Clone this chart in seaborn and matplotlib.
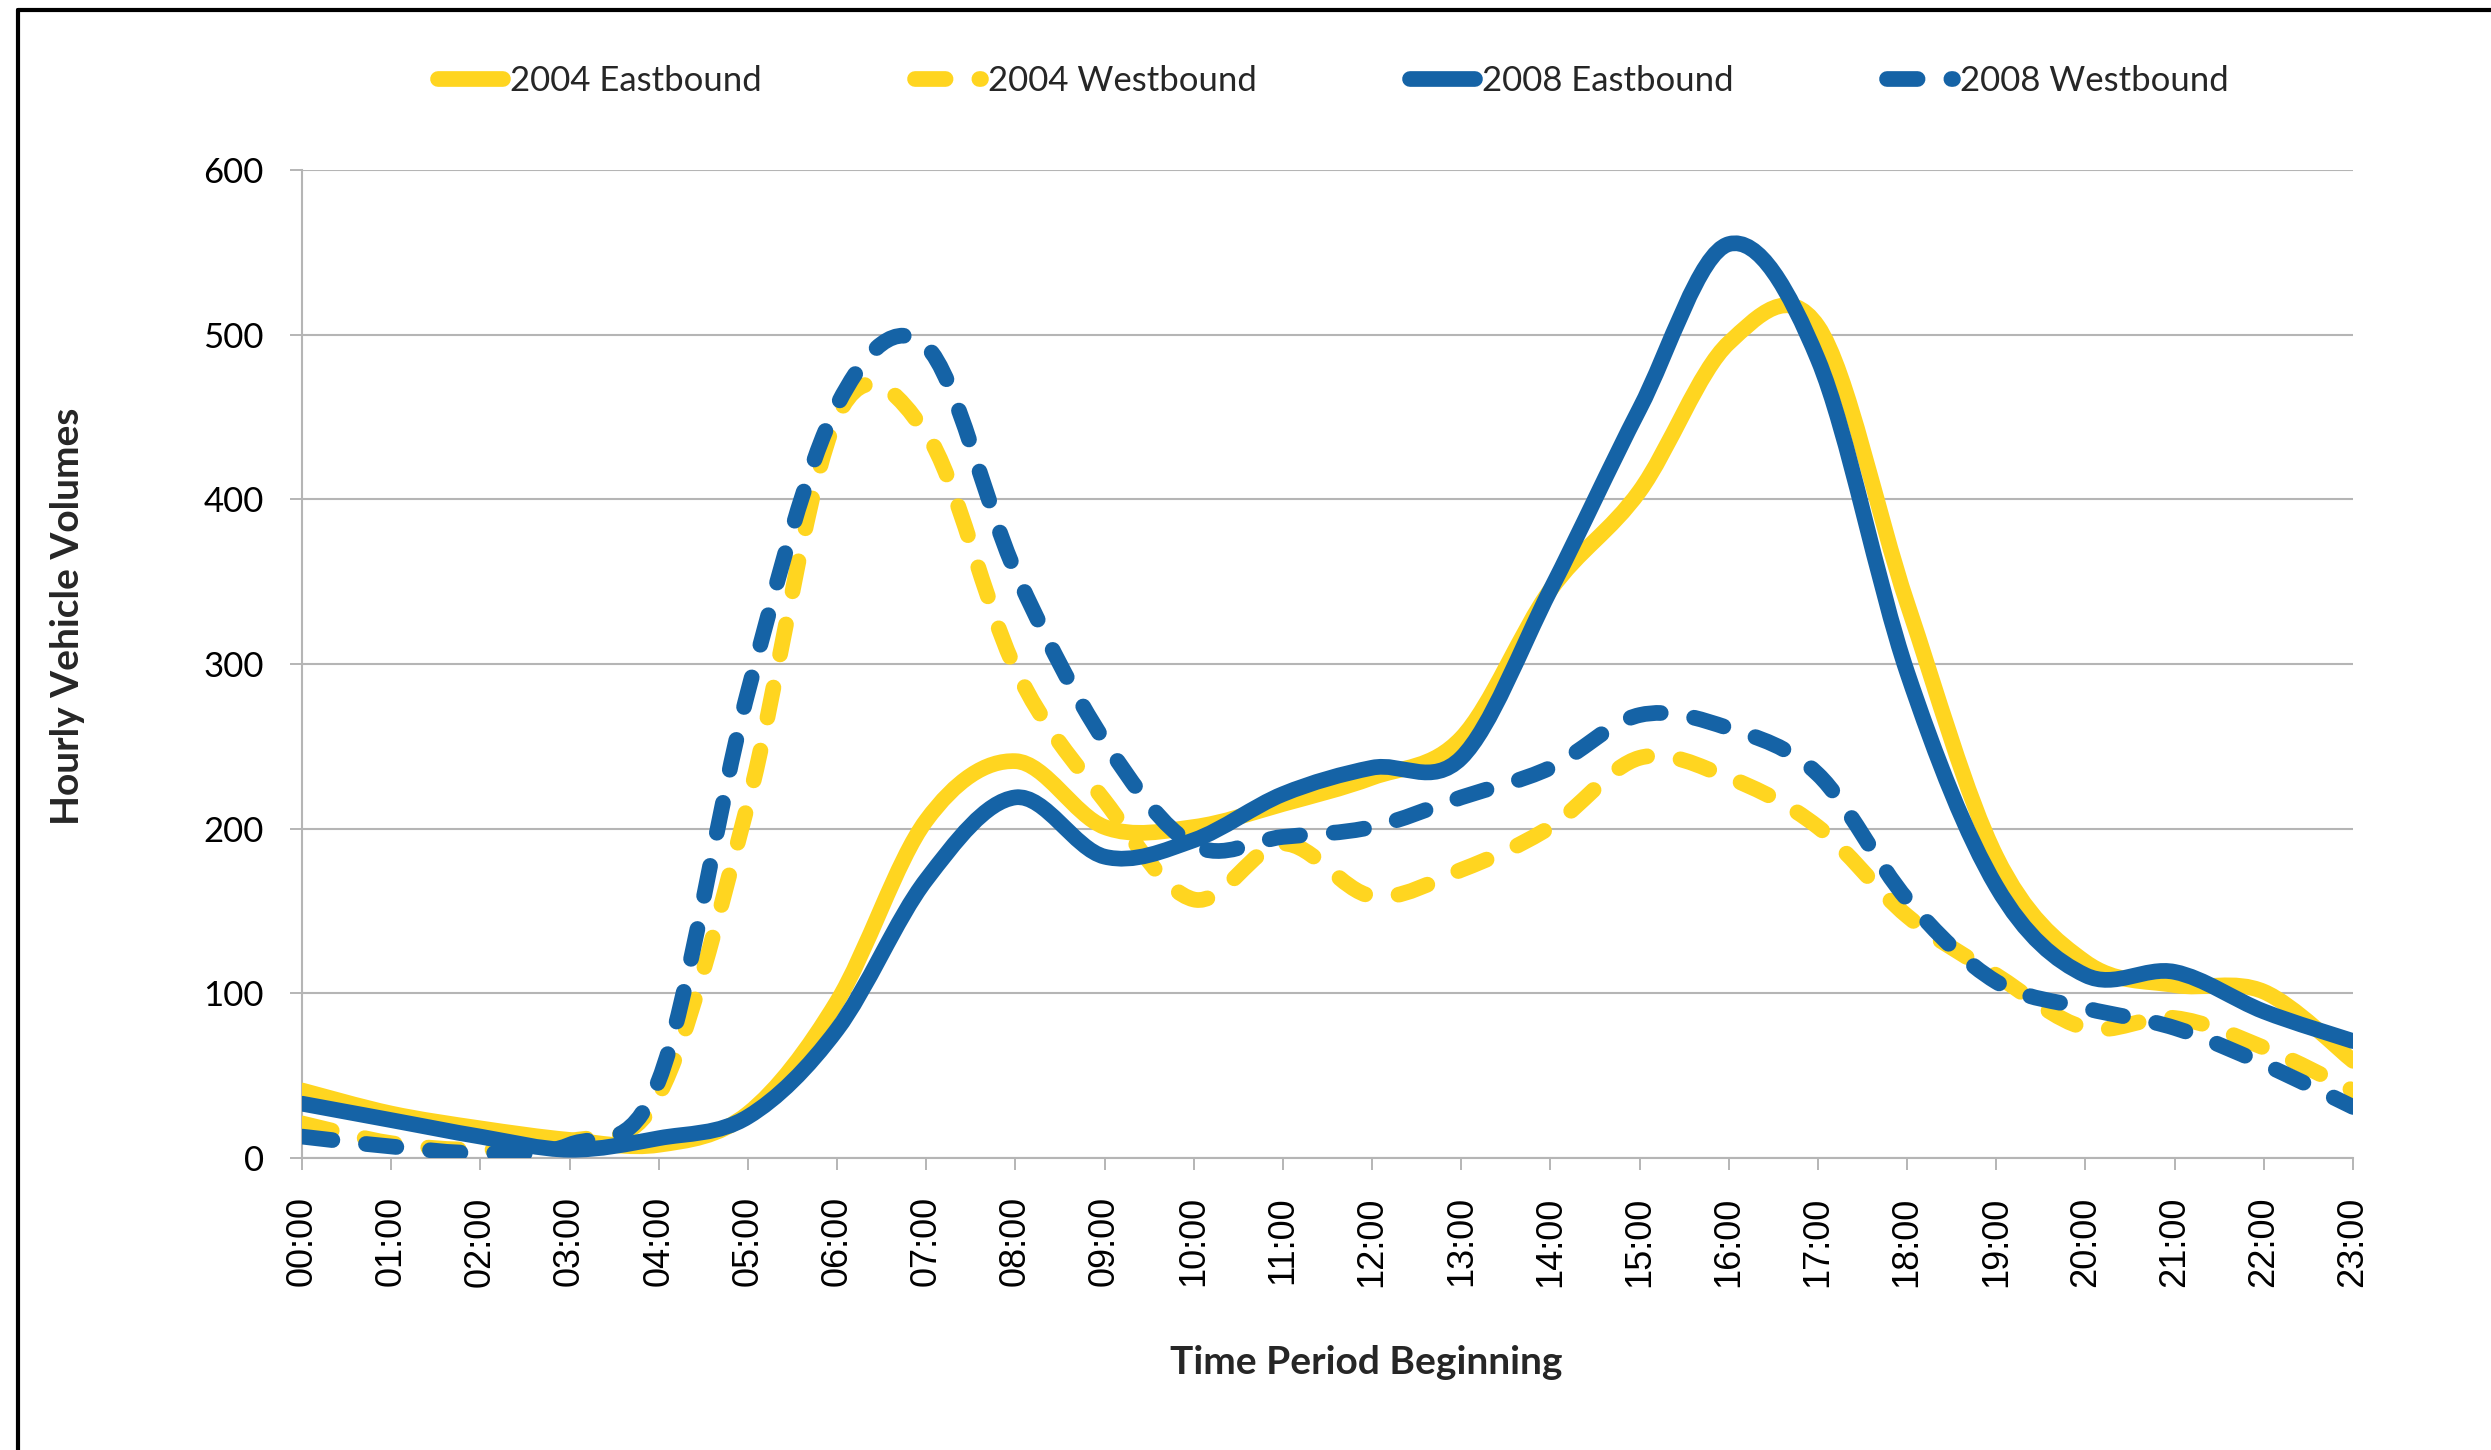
import numpy as np
import pandas as pd
import seaborn as sns
import matplotlib
matplotlib.use("Agg")
import matplotlib.pyplot as plt
from matplotlib.path import Path
from matplotlib.patches import PathPatch
from matplotlib.lines import Line2D

# datos (vehiculos por hora)
horas = ["00:00", "01:00", "02:00", "03:00", "04:00", "05:00", "06:00", "07:00",
         "08:00", "09:00", "10:00", "11:00", "12:00", "13:00", "14:00", "15:00",
         "16:00", "17:00", "18:00", "19:00", "20:00", "21:00", "22:00", "23:00"]

este_2004 = [41, 27, 18, 11, 8, 27, 95, 205, 241, 201, 201, 215,
             231, 255, 345, 405, 495, 505, 337, 183, 119, 105, 101, 59]
oeste_2004 = [21, 9, 5, 10, 38, 215, 450, 440, 297, 217, 157, 191,
              159, 175, 201, 243, 231, 201, 147, 111, 79, 85, 67, 41]
este_2008 = [33, 23, 13, 5, 12, 25, 78, 169, 219, 183, 193, 221,
             237, 243, 345, 455, 555, 485, 295, 165, 111, 113, 89, 71]
oeste_2008 = [13, 7, 3, 8, 47, 283, 457, 493, 356, 253, 190, 195,
              201, 219, 237, 269, 261, 233, 157, 107, 91, 79, 57, 31]

series = ["2004 Eastbound", "2004 Westbound", "2008 Eastbound", "2008 Westbound"]
valores = [este_2004, oeste_2004, este_2008, oeste_2008]

df = pd.DataFrame({"hora": np.arange(len(horas))})
for nombre, v in zip(series, valores):
    df[nombre] = v

amarillo = "#FFD520"
azul = "#1563A6"
colores = [amarillo, amarillo, azul, azul]
discontinua = (0, (1.95, 2.15))
estilos = ["-", discontinua, "-", discontinua]


def curva_suave(x, y):
    # linea suavizada tipo Excel (bezier por los puntos)
    n = len(x)
    verts = [(x[0], y[0])]
    codes = [Path.MOVETO]
    for i in range(n - 1):
        a = max(i - 1, 0)
        d = min(i + 2, n - 1)
        c1 = (x[i] + (x[i + 1] - x[a]) / 6, y[i] + (y[i + 1] - y[a]) / 6)
        c2 = (x[i + 1] - (x[d] - x[i]) / 6, y[i + 1] - (y[d] - y[i]) / 6)
        verts += [c1, c2, (x[i + 1], y[i + 1])]
        codes += [Path.CURVE4] * 3
    return Path(verts, codes)


sns.set_theme(style="white")
plt.rcParams["font.family"] = ["Lato", "DejaVu Sans"]

W, H = 2491, 1450
fig = plt.figure(figsize=(W / 100, H / 100), dpi=100)
ax = fig.add_axes([302 / W, 1 - 1158 / H, (2353 - 302) / W, (1158 - 170) / H])

gris = "#B5B5B5"
grosor = 11.3

for nombre, color, ls in zip(series, colores, estilos):
    p = curva_suave(df["hora"].values.astype(float), df[nombre].values.astype(float))
    ax.add_patch(PathPatch(p, fill=False, edgecolor=color, lw=grosor, linestyle=ls,
                           capstyle="round", joinstyle="round", zorder=3))

ax.set_xlim(0, 23)
ax.set_ylim(0, 600)
ax.set_xticks(df["hora"])
ax.set_xticklabels(horas, rotation=90, fontsize=26, family=["Liberation Sans", "DejaVu Sans"])
ax.set_yticks([0, 100, 200, 300, 400, 500, 600])
ax.set_yticklabels(["0", "100", "200", "300", "400", "500", "600"], fontsize=25)

ax.yaxis.grid(True, color=gris, lw=1.5)
ax.xaxis.grid(False)
sns.despine(ax=ax)
for lado in ["left", "bottom"]:
    ax.spines[lado].set_color(gris)
    ax.spines[lado].set_linewidth(1.5)
ax.tick_params(axis="both", bottom=True, left=True, direction="out", length=8.6,
               width=1.4, color=gris, pad=19, labelcolor="black")

fig.text(68 / W, 1 - 616 / H, "Hourly Vehicle Volumes", rotation=90, ha="center",
         va="center", fontsize=28, fontweight="bold")
fig.text(1366 / W, 1 - 1362 / H, "Time Period Beginning", ha="center", va="center",
         fontsize=28, fontweight="bold")

manejadores = [Line2D([], [], color=c, lw=grosor, linestyle=ls, solid_capstyle="round",
                      dash_capstyle="round") for c, ls in zip(colores, estilos)]
fig.legend(manejadores, series, loc="center", bbox_to_anchor=(1333 / W, 1 - 81 / H),
           ncol=4, frameon=False, fontsize=25, handlelength=1.9, handletextpad=0.2,
           columnspacing=4.4)

# marco negro del grafico
fig.add_artist(Line2D([18 / W, 18 / W], [0, 1 - 10 / H], color="black", lw=3,
                      transform=fig.transFigure))
fig.add_artist(Line2D([18 / W, 1], [1 - 10 / H, 1 - 10 / H], color="black", lw=3,
                      transform=fig.transFigure))

fig.savefig("out.png", dpi=100)
